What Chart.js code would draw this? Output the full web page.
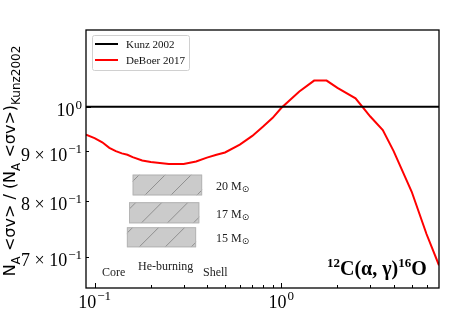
<!DOCTYPE html>
<html>
<head>
<meta charset="utf-8">
<script src="https://cdn.jsdelivr.net/npm/chart.js@4/dist/chart.umd.min.js"></script>
<style>
  html, body { margin: 0; padding: 0; background: #fff; }
  #wrap { width: 459px; height: 318px; position: relative; }
</style>
</head>
<body>
<div id="wrap"><canvas id="rateChart"></canvas></div>
<script>
// 12C(a,g)16O reaction rate ratio, DeBoer 2017 vs Kunz 2002
const temps = [0.09, 0.1, 0.11, 0.12, 0.13, 0.14, 0.15, 0.16, 0.18, 0.2, 0.25, 0.3, 0.35, 0.4, 0.45,
  0.5, 0.6, 0.7, 0.8, 0.9, 1.0, 1.25, 1.5, 1.75, 2.0, 2.5, 3.0, 3.5, 4.0, 5.0, 6.0, 7.0];
const kunz2002 = temps.map(() => 1.0);
const deboer2017 = [0.936, 0.928, 0.919, 0.907, 0.900, 0.895, 0.892, 0.887, 0.880, 0.877, 0.873, 0.873, 0.878,
  0.886, 0.892, 0.897, 0.914, 0.933, 0.954, 0.974, 0.997, 1.037, 1.064, 1.064, 1.046, 1.020, 0.977, 0.946,
  0.900, 0.817, 0.739, 0.686];

// He-burning temperature ranges (T9) and ratio span per stellar mass
const masses = ["20", "17", "15"];
const heT9Lo = [0.160, 0.153, 0.149];
const heT9Hi = [0.377, 0.364, 0.350];
const heYHi = [0.851, 0.797, 0.751];
const heYLo = [0.810, 0.758, 0.716];

const xMajor = [0.1, 1];
const xMinor = [0.2, 0.3, 0.4, 0.5, 0.6, 0.7, 0.8, 0.9, 2, 3, 4, 5, 6];
const xLabels = [["10", "−1"], ["10", "0"]];
const yTickVals = [1.0, 0.9, 0.8, 0.7];
const yLabels = [["10", "0"], ["9 × 10", "−1"], ["8 × 10", "−1"], ["7 × 10", "−1"]];

const SERIF = "'Liberation Serif', 'Times New Roman', serif";
const SANS = "'DejaVu Sans', sans-serif";

function supText(ctx, x, y, base, exp, size, align) {
  ctx.font = size + "px " + SERIF;
  const wb = ctx.measureText(base).width;
  ctx.font = Math.round(size * 0.7) + "px " + SERIF;
  const we = ctx.measureText(exp).width;
  let x0 = x;
  if (align === "right") x0 = x - wb - we - 1;
  if (align === "center") x0 = x - (wb + we + 1) / 2;
  ctx.font = size + "px " + SERIF;
  ctx.fillText(base, x0, y);
  ctx.font = Math.round(size * 0.7) + "px " + SERIF;
  ctx.fillText(exp, x0 + wb + 1, y - size * 0.42);
}

const decor = {
  id: "decor",
  beforeDatasetsDraw(chart) {
    const { ctx, scales: { x, y } } = chart;
    ctx.save();
    for (let i = 0; i < masses.length; i++) {
      const l = x.getPixelForValue(heT9Lo[i]), r = x.getPixelForValue(heT9Hi[i]);
      const t = y.getPixelForValue(heYHi[i]), b = y.getPixelForValue(heYLo[i]);
      ctx.fillStyle = "#cbcbcb";
      ctx.fillRect(l, t, r - l, b - t);
      ctx.save();
      ctx.beginPath(); ctx.rect(l, t, r - l, b - t); ctx.clip();
      ctx.strokeStyle = "#8f8f8f"; ctx.lineWidth = 1;
      for (let k = l - 40; k < r + 40; k += 26) {
        ctx.beginPath(); ctx.moveTo(k, b); ctx.lineTo(k + (b - t), t); ctx.stroke();
      }
      ctx.restore();
      ctx.strokeStyle = "#b5b5b5"; ctx.lineWidth = 1;
      ctx.strokeRect(l + 0.5, t + 0.5, r - l - 1, b - t - 1);
      // mass label
      ctx.fillStyle = "#222";
      ctx.font = "12px " + SERIF;
      const ly = (t + b) / 2 + 5;
      ctx.fillText(masses[i] + " M", 216, ly);
      const wm = ctx.measureText(masses[i] + " M").width;
      ctx.font = "9px " + SANS;
      ctx.fillText("⊙", 216 + wm, ly + 2);
    }
    ctx.fillStyle = "#222";
    ctx.font = "12px " + SERIF;
    ctx.fillText("Core", 102, 276);
    ctx.fillText("He-burning", 138, 270);
    ctx.fillText("Shell", 203, 276);
    ctx.restore();
  },
  afterDatasetsDraw(chart) {
    const { ctx, chartArea: a, scales: { x, y } } = chart;
    ctx.save();
    // frame
    ctx.strokeStyle = "#000"; ctx.lineWidth = 1.3;
    ctx.strokeRect(a.left, a.top, a.right - a.left, a.bottom - a.top);
    // ticks (inward)
    ctx.lineWidth = 1;
    xMajor.concat(xMinor).forEach((v, i) => {
      const px = Math.round(x.getPixelForValue(v)) + 0.5;
      const len = i < xMajor.length ? 5 : 3;
      ctx.beginPath(); ctx.moveTo(px, a.bottom); ctx.lineTo(px, a.bottom - len); ctx.stroke();
    });
    yTickVals.forEach((v, i) => {
      const py = Math.round(y.getPixelForValue(v)) + 0.5;
      const len = i === 0 ? 5 : 3;
      ctx.beginPath(); ctx.moveTo(a.left, py); ctx.lineTo(a.left + len, py); ctx.stroke();
    });
    // tick labels
    ctx.fillStyle = "#000";
    xMajor.forEach((v, i) => {
      supText(ctx, x.getPixelForValue(v), a.bottom + 20, xLabels[i][0], xLabels[i][1], 18, "center");
    });
    yTickVals.forEach((v, i) => {
      supText(ctx, a.left - 4, y.getPixelForValue(v) + 9.5, yLabels[i][0], yLabels[i][1], 18, "right");
    });
    // legend
    const lx = a.left + 6, ly = a.top + 5;
    ctx.fillStyle = "rgba(255,255,255,0.85)";
    ctx.strokeStyle = "#d0d0d0"; ctx.lineWidth = 1;
    ctx.beginPath(); ctx.roundRect(lx + 0.5, ly + 0.5, 97, 35, 2); ctx.fill(); ctx.stroke();
    chart.data.datasets.forEach((ds, i) => {
      const yy = ly + 9 + i * 16;
      ctx.strokeStyle = ds.borderColor; ctx.lineWidth = 2;
      ctx.beginPath(); ctx.moveTo(lx + 3, yy); ctx.lineTo(lx + 26, yy); ctx.stroke();
      ctx.fillStyle = "#111"; ctx.font = "11px " + SERIF;
      ctx.fillText(ds.label, lx + 34, yy + 4);
    });
    // reaction label
    ctx.fillStyle = "#000";
    let cx = 327;
    const by = 275;
    const big = "bold 20px " + SERIF, sup = "bold 13px " + SERIF;
    ctx.font = sup; ctx.fillText("12", cx, by - 8); cx += ctx.measureText("12").width;
    ctx.font = big; ctx.fillText("C(α, γ)", cx, by); cx += ctx.measureText("C(α, γ)").width;
    ctx.font = sup; ctx.fillText("16", cx, by - 8); cx += ctx.measureText("16").width;
    ctx.font = big; ctx.fillText("O", cx, by);
    // y axis title (rotated)
    ctx.save();
    ctx.translate(15, 161);
    ctx.rotate(-Math.PI / 2);
    const parts = [["N", 0], ["A", 1], [" <σv> / (N", 0], ["A", 1], [" <σv>)", 0], ["Kunz2002", 1]];
    const fMain = "16px " + SANS, fSub = "12px " + SANS;
    let total = 0;
    parts.forEach(p => { ctx.font = p[1] ? fSub : fMain; total += ctx.measureText(p[0]).width; });
    let tx = -total / 2;
    parts.forEach(p => {
      ctx.font = p[1] ? fSub : fMain;
      ctx.fillText(p[0], tx, p[1] ? 5 : 0);
      tx += ctx.measureText(p[0]).width;
    });
    ctx.restore();
    ctx.restore();
  }
};

new Chart(document.getElementById("rateChart"), {
  type: "line",
  data: {
    datasets: [
      { label: "Kunz 2002", data: temps.map((t, i) => ({ x: t, y: kunz2002[i] })),
        borderColor: "#000000", borderWidth: 2, pointRadius: 0, tension: 0 },
      { label: "DeBoer 2017", data: temps.map((t, i) => ({ x: t, y: deboer2017[i] })),
        borderColor: "#ff0000", borderWidth: 2, pointRadius: 0, tension: 0 },
    ],
  },
  options: {
    responsive: true,
    maintainAspectRatio: false,
    animation: false,
    layout: { padding: { left: 86, top: 30, right: 20, bottom: 30 } },
    plugins: { legend: { display: false }, tooltip: { enabled: false } },
    scales: {
      x: { type: "logarithmic", min: 0.09, max: 7, display: false },
      y: { type: "logarithmic", min: 0.65, max: 1.2, display: false },
    },
  },
  plugins: [decor],
});
</script>
</body>
</html>
